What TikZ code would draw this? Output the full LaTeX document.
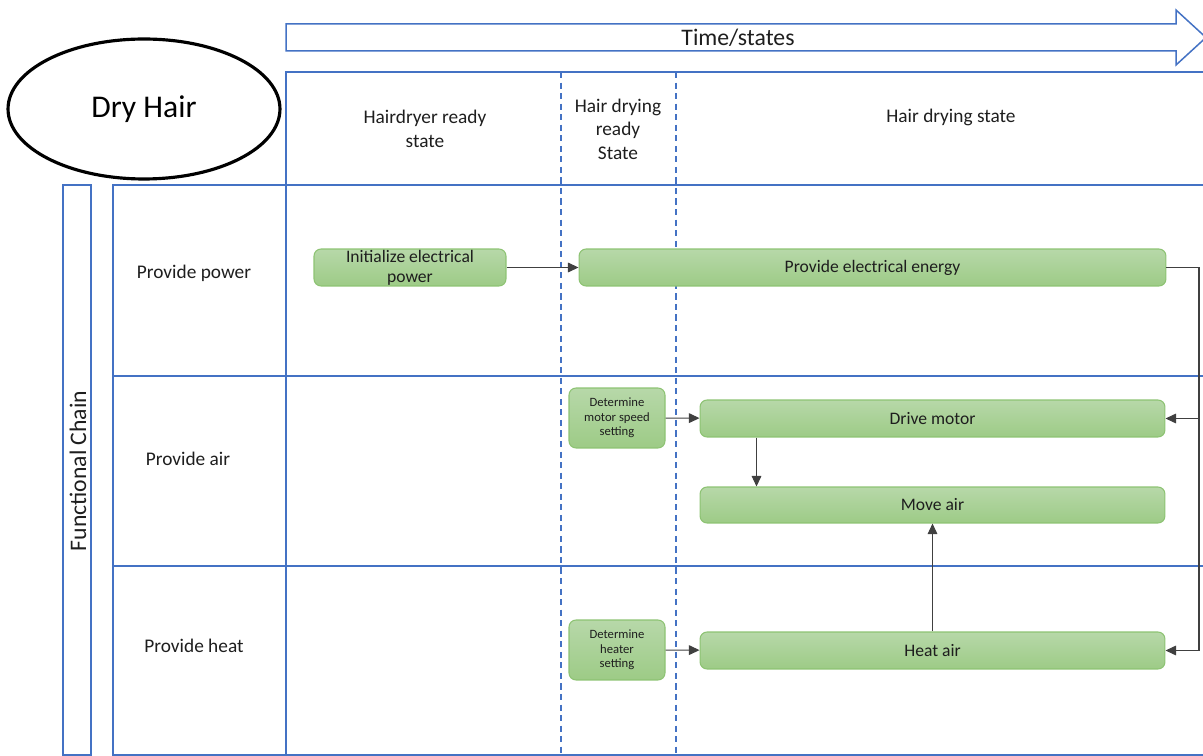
\documentclass[tikz,border=0pt]{standalone}
\usepackage{fontspec}
\setmainfont{Carlito}
\usetikzlibrary{shapes.geometric,arrows.meta}

\definecolor{laneblue}{HTML}{4472C4}
\definecolor{greentop}{HTML}{B7D8A9}
\definecolor{greenbot}{HTML}{9DCB86}
\definecolor{greenedge}{HTML}{8DC373}
\definecolor{textgray}{HTML}{1E1E1E}

\tikzset{
  lane/.style={draw=laneblue, line width=0.85pt},
  phase/.style={draw=laneblue, dash pattern=on 3.5pt off 2.5pt, line width=0.85pt},
  func/.style={draw=greenedge, line width=0.6pt, rounded corners=4pt, top color=greentop, bottom color=greenbot,
    text=textgray, align=center, inner sep=0pt, font=\fontsize{10}{11.3}\selectfont},
  small/.style={font=\fontsize{7.2}{8.2}\selectfont},
  link/.style={-{Triangle[length=6pt,width=5.5pt]}, draw=black!75, line width=0.6pt},
  label/.style={text=textgray, align=center, font=\fontsize{11}{13.3}\selectfont}
}

\begin{document}
\begin{tikzpicture}[x=0.02cm, y=-0.02cm]
\useasboundingbox (0,0) rectangle (1203,756);

\draw[lane, fill=white] (286,24) -- (1176,24) -- (1176,10) -- (1206,37.5) -- (1176,65) -- (1176,51) -- (286,51) -- cycle;
\node[label, font=\fontsize{13.5}{16}\selectfont] (time) at (738,38) {Time/states};

\node[ellipse, draw, line width=1.8pt, minimum width=5.44cm, minimum height=2.8cm, font=\fontsize{18}{21}\selectfont] (goal) at (144,109) {Dry Hair};

\draw[lane] (286,72) rectangle (1208,185);
\draw[lane] (63,185) rectangle (91,755);
\draw[lane] (113,185) rectangle (1208,755);
\draw[lane] (286,72) -- (286,755);
\draw[lane] (113,376) -- (1208,376);
\draw[lane] (113,566) -- (1208,566);
\draw[phase] (561,72) -- (561,755);
\draw[phase] (676,72) -- (676,755);

\node[label, rotate=90, font=\fontsize{13.5}{16}\selectfont] (chain) at (78,471) {Functional Chain};

\node[label] (ready) at (425,129) {Hairdryer ready\\state};
\node[label] (dryready) at (618,129) {Hair drying\\ready\\State};
\node[label] (drying) at (951,117) {Hair drying state};

\node[label] (power) at (194,273) {Provide power};
\node[label] (air) at (188,459) {Provide air};
\node[label] (heat) at (194,646) {Provide heat};

\node[func, minimum width=3.84cm, minimum height=0.74cm] (init) at (410,267.5) {Initialize electrical\\power};
\node[func, minimum width=11.74cm, minimum height=0.74cm] (energy) at (872.5,267.5) {Provide electrical energy};
\node[func, small, minimum width=1.92cm, minimum height=1.2cm] (motorset) at (617,418) {Determine\\motor speed\\setting};
\node[func, minimum width=9.3cm, minimum height=0.74cm] (drive) at (932.5,418.5) {Drive motor};
\node[func, minimum width=9.3cm, minimum height=0.72cm] (move) at (932.5,505) {Move air};
\node[func, small, minimum width=1.92cm, minimum height=1.2cm] (heatset) at (617,650) {Determine\\heater\\setting};
\node[func, minimum width=9.3cm, minimum height=0.74cm] (heatair) at (932.5,650.5) {Heat air};

\coordinate (rail) at (1199,267.5);
\draw[link] (init) -- (energy);
\draw[link] (energy.east) -- (rail) |- (drive.east);
\draw[link] (rail) |- (heatair.east);
\draw[link] (motorset) -- (drive);
\draw[link] ([xshift=1.14cm]drive.south west) -- ([xshift=1.14cm]move.north west);
\draw[link] (heatair) -- (move);
\draw[link] (heatset) -- (heatair);
\end{tikzpicture}
\end{document}
